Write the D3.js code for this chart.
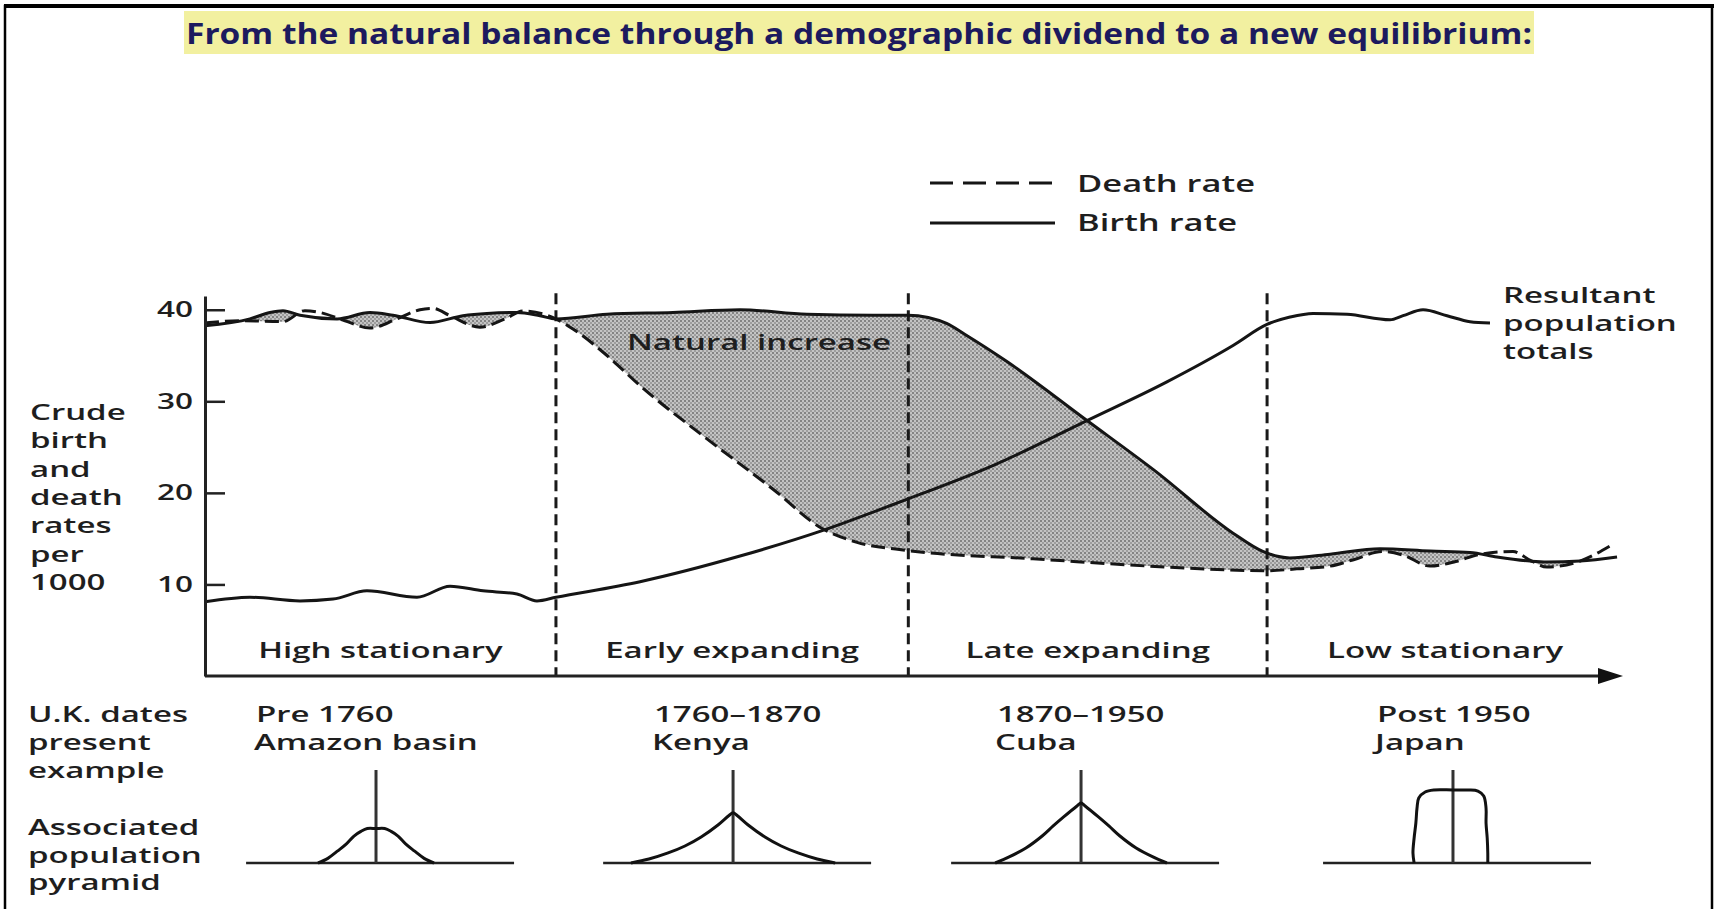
<!DOCTYPE html>
<html>
<head>
<meta charset="utf-8">
<script src="https://cdn.jsdelivr.net/npm/d3@7"></script>
<style>
  body { margin: 0; background: #fff; }
  svg { display: block; }
  text { font-family: "Open Sans", "DejaVu Sans", sans-serif; }
</style>
</head>
<body>
<div id="chart"></div>
<script>
// time runs 0..100 across the four stages of the transition
var stageNames = ["High stationary", "Early expanding", "Late expanding", "Low stationary"];
var stageBounds = [24.75, 49.6, 74.9];
var ukDates = ["Pre 1760", "1760–1870", "1870–1950", "Post 1950"];
var examples = ["Amazon basin", "Kenya", "Cuba", "Japan"];
var yTicks = [10, 20, 30, 40];

// crude birth rate per 1000
var birthTime = [0, 3.17, 4.58, 5.5, 6.7, 9.31, 11.64, 13.26, 15.87, 18.19, 19.89, 22.0, 23.62, 24.75,
  28.35, 33.0, 37.73, 42.45, 47.11, 49.58, 51.0, 52.3, 53.6, 56.5, 62.2, 67.0, 72.5, 74.6, 76.5,
  79.34, 82.86, 86.39, 89.21, 91.11, 93.44, 94.64, 96.97, 99.58];
var birthRate = [38.25, 39.0, 39.7, 39.9, 39.4, 39.0, 39.7, 39.4, 38.6, 39.35, 39.6, 39.7, 39.35, 39.0,
  39.5, 39.7, 40.0, 39.5, 39.4, 39.4, 39.15, 38.5, 37.3, 34.4, 27.9, 22.4, 15.6, 13.6, 12.9,
  13.3, 13.9, 13.65, 13.5, 13.0, 12.55, 12.45, 12.55, 13.0];

// crude death rate per 1000
var deathTime = [0, 2.47, 5.5, 7.05, 8.11, 9.87, 11.64, 13.54, 15.16, 16.08, 17.28, 19.39, 21.16, 22.43, 24.75,
  25.95, 28.35, 30.68, 35.4, 40.06, 43.58, 45.98, 49.58, 58.39, 67.84, 74.89,
  77.0, 79.34, 81.0, 83.0, 84.5, 86.39, 88.2, 89.92, 92.24, 93.5, 94.64, 96.97, 99.08];
var deathRate = [38.55, 38.8, 38.7, 39.9, 39.7, 38.8, 38.0, 39.0, 40.0, 40.15, 39.35, 38.1, 39.0, 39.85, 39.0,
  37.9, 35.0, 31.7, 25.9, 20.4, 16.05, 14.6, 13.7, 12.8, 11.9, 11.5,
  11.7, 12.0, 12.7, 13.6, 13.2, 12.0, 12.5, 13.3, 13.6, 12.6, 11.9, 12.55, 14.2];

// resultant population totals (same vertical scale, no units)
var popTime = [0, 3.17, 6.7, 9.03, 11.42, 14.95, 17.28, 19.61, 22.0, 23.41, 24.75,
  30.68, 37.73, 43.58, 49.0, 55.6, 62.2, 67.8, 72.5, 74.89, 76.52,
  78.14, 80.54, 83.57, 84.49, 85.9, 87.59, 89.21, 90.62];
var popTotal = [8.1, 8.6, 8.2, 8.4, 9.3, 8.6, 9.8, 9.3, 8.95, 8.2, 8.6,
  10.3, 13.1, 15.9, 19.0, 23.0, 27.9, 32.1, 36.1, 38.4, 39.2,
  39.6, 39.5, 38.9, 39.35, 40.0, 39.35, 38.7, 38.55];

// population pyramids: [share of population each side, age]
var pyramidCentre = [12.06, 37.24, 61.78, 88.01];
var pyrHigh = [[-10, 0], [-8.3, 5], [-6.6, 13], [-5.2, 20], [-3.8, 29], [-2.6, 34], [-1.5, 37], [0, 37],
  [1.5, 37], [2.6, 34], [3.8, 29], [5.2, 20], [6.6, 13], [8.3, 5], [10, 0]];
var pyrEarly = [[-17.6, 0], [-14.5, 4.3], [-11.2, 10.8], [-8.3, 18.3], [-5.5, 28.0], [-2.6, 40.9], [-0.7, 51.1], [0, 54],
  [0.7, 51.1], [2.6, 40.9], [5.5, 28.0], [8.3, 18.3], [11.2, 10.8], [14.5, 4.3], [17.6, 0]];
var pyrLate = [[-14.8, 0], [-12.4, 6.5], [-9.5, 16.1], [-6.7, 29.0], [-4.8, 39.8], [-3.0, 49.5], [-0.7, 61.3], [0, 64.5],
  [0.7, 61.3], [3.0, 49.5], [4.8, 39.8], [6.7, 29.0], [9.5, 16.1], [12.4, 6.5], [14.8, 0]];
var pyrLow = [[-6.7, 0], [-6.9, 10.8], [-6.7, 26.9], [-6.4, 43], [-6.2, 59.1], [-5.9, 69.9], [-4.8, 76.3], [-3.3, 78.5],
  [0, 78.5], [2.6, 78.5], [4.3, 77.4], [5.3, 72], [5.7, 59.1], [5.7, 43], [5.9, 26.9], [6.0, 10.8], [6.0, 0]];
var pyramids = [pyrHigh, pyrEarly, pyrLate, pyrLow];
var pyrBase = [-22.4, 23.8];

var W = 1718, H = 909;
var SX = 1.5; // the scanned figure is stretched sideways

var svg = d3.select("#chart").append("svg").attr("width", W).attr("height", H);
var defs = svg.append("defs");

var pat = defs.append("pattern").attr("id", "stipple")
  .attr("patternUnits", "userSpaceOnUse").attr("width", 4).attr("height", 4);
pat.append("rect").attr("width", 4).attr("height", 4).attr("fill", "#c4c4c4");
pat.append("circle").attr("cx", 1).attr("cy", 1).attr("r", 1).attr("fill", "#6e6e6e");
pat.append("circle").attr("cx", 3).attr("cy", 3).attr("r", 0.9).attr("fill", "#8c8c8c");

// frame
svg.append("rect").attr("x", 5).attr("y", 6).attr("width", 1707).attr("height", 960)
  .attr("fill", "none").attr("stroke", "#000").attr("stroke-width", 2.5);
svg.append("line").attr("x1", 4).attr("x2", 1714).attr("y1", 6).attr("y2", 6)
  .attr("stroke", "#000").attr("stroke-width", 4);

// title
svg.append("rect").attr("x", 184).attr("y", 11).attr("width", 1350).attr("height", 43).attr("fill", "#f2f0a0");
svg.append("text").attr("x", 186).attr("y", 44)
  .attr("font-size", 29).attr("font-weight", 700).attr("fill", "#1c1a5e")
  .attr("textLength", 1346).attr("lengthAdjust", "spacingAndGlyphs")
  .text("From the natural balance through a demographic dividend to a new equilibrium:");

function label(x, y, str, anchor, size) {
  return svg.append("text")
    .attr("transform", "translate(" + x + "," + y + ") scale(" + SX + ",1)")
    .attr("text-anchor", anchor || "start")
    .attr("font-size", size || 22)
    .attr("font-weight", 600)
    .attr("fill", "#1e1e1e")
    .text(str);
}

var x = d3.scaleLinear().domain([0, 100]).range([205, 1623]);
var y = d3.scaleLinear().domain([0, 41.5]).range([676, 296]);

var birth = birthTime.map(function (t, i) { return { t: t, v: birthRate[i] }; });
var death = deathTime.map(function (t, i) { return { t: t, v: deathRate[i] }; });
var pop = popTime.map(function (t, i) { return { t: t, v: popTotal[i] }; });

var curve = d3.curveMonotoneX;

// natural increase: below the birth line and above the death line
defs.append("clipPath").attr("id", "aboveDeath").append("path")
  .attr("d", d3.area().curve(curve).x(function (d) { return x(d.t); })
    .y0(0).y1(function (d) { return y(d.v); })(death));

svg.append("path")
  .attr("d", d3.area().curve(curve).x(function (d) { return x(d.t); })
    .y0(y(0)).y1(function (d) { return y(d.v); })(birth))
  .attr("fill", "url(#stipple)")
  .attr("clip-path", "url(#aboveDeath)");

// stage dividers
svg.selectAll(".divider").data(stageBounds).enter().append("line")
  .attr("class", "divider")
  .attr("x1", function (d) { return x(d); }).attr("x2", function (d) { return x(d); })
  .attr("y1", y(41.8)).attr("y2", y(0))
  .attr("stroke", "#1a1a1a").attr("stroke-width", 3).attr("stroke-dasharray", "11,6");

var line = d3.line().curve(curve).x(function (d) { return x(d.t); }).y(function (d) { return y(d.v); });

svg.append("path").attr("d", line(death)).attr("fill", "none")
  .attr("stroke", "#151515").attr("stroke-width", 3).attr("stroke-dasharray", "14,6");
svg.append("path").attr("d", line(birth)).attr("fill", "none")
  .attr("stroke", "#151515").attr("stroke-width", 3);
svg.append("path").attr("d", line(pop)).attr("fill", "none")
  .attr("stroke", "#151515").attr("stroke-width", 3);

// y axis, ticks point inwards
var yAxis = d3.axisLeft(y).tickValues(yTicks).tickSize(-20).tickSizeOuter(0).tickPadding(12);
var gy = svg.append("g").attr("transform", "translate(" + x(0) + ",0)").call(yAxis);
gy.select(".domain").attr("stroke", "#222").attr("stroke-width", 3);
gy.selectAll(".tick line").attr("stroke", "#222").attr("stroke-width", 2.5);
gy.selectAll(".tick text")
  .attr("x", -12 / SX).attr("transform", "scale(" + SX + ",1)")
  .attr("font-size", 21).attr("font-weight", 600).attr("fill", "#1e1e1e");

// x axis with arrow
svg.append("line").attr("x1", x(0)).attr("x2", x(100) - 20).attr("y1", y(0)).attr("y2", y(0))
  .attr("stroke", "#222").attr("stroke-width", 3);
svg.append("path")
  .attr("d", "M" + x(100) + "," + y(0) + "L" + (x(100) - 25) + "," + (y(0) - 8) + "L" + (x(100) - 25) + "," + (y(0) + 8) + "Z")
  .attr("fill", "#111");

// stage names
var stageEdges = [0].concat(stageBounds, [100]);
stageNames.forEach(function (s, i) {
  label((x(stageEdges[i]) + x(stageEdges[i + 1])) / 2, 658, s, "middle");
});

// legend
svg.append("line").attr("x1", 930).attr("x2", 1053).attr("y1", 183).attr("y2", 183)
  .attr("stroke", "#151515").attr("stroke-width", 3).attr("stroke-dasharray", "23,10");
svg.append("line").attr("x1", 930).attr("x2", 1055).attr("y1", 223).attr("y2", 223)
  .attr("stroke", "#151515").attr("stroke-width", 3);
label(1077, 192, "Death rate", "start", 23);
label(1077, 231, "Birth rate", "start", 23);

label(627, 350, "Natural increase");

["Resultant", "population", "totals"].forEach(function (s, i) {
  label(1503, 303 + i * 28, s);
});

["Crude", "birth", "and", "death", "rates", "per", "1000"].forEach(function (s, i) {
  label(30, 420 + i * 28.3, s);
});

["U.K. dates", "present", "example"].forEach(function (s, i) { label(28, 722 + i * 28, s); });
["Associated", "population", "pyramid"].forEach(function (s, i) { label(28, 835 + i * 27.5, s); });

var dateX = [256, 654, 997, 1377];
ukDates.forEach(function (s, i) {
  label(dateX[i], 722, s);
  label(dateX[i] - 2, 750, examples[i]);
});

// pyramids
var pw = d3.scaleLinear().domain([-10, 10]).range([-58, 58]);
var ph = d3.scaleLinear().domain([0, 100]).range([0, -93]);
var pyrLine = d3.line().curve(d3.curveCatmullRom.alpha(0.5))
  .x(function (d) { return pw(d[0]); }).y(function (d) { return ph(d[1]); });

pyramids.forEach(function (p, i) {
  var g = svg.append("g").attr("transform", "translate(" + x(pyramidCentre[i]) + ",863)");
  g.append("line").attr("x1", pw(pyrBase[0])).attr("x2", pw(pyrBase[1]))
    .attr("stroke", "#222").attr("stroke-width", 2.5);
  g.append("line").attr("y1", 0).attr("y2", ph(100))
    .attr("stroke", "#333").attr("stroke-width", 3);
  g.append("path").attr("d", pyrLine(p)).attr("fill", "none")
    .attr("stroke", "#111").attr("stroke-width", 3);
});
</script>
</body>
</html>
